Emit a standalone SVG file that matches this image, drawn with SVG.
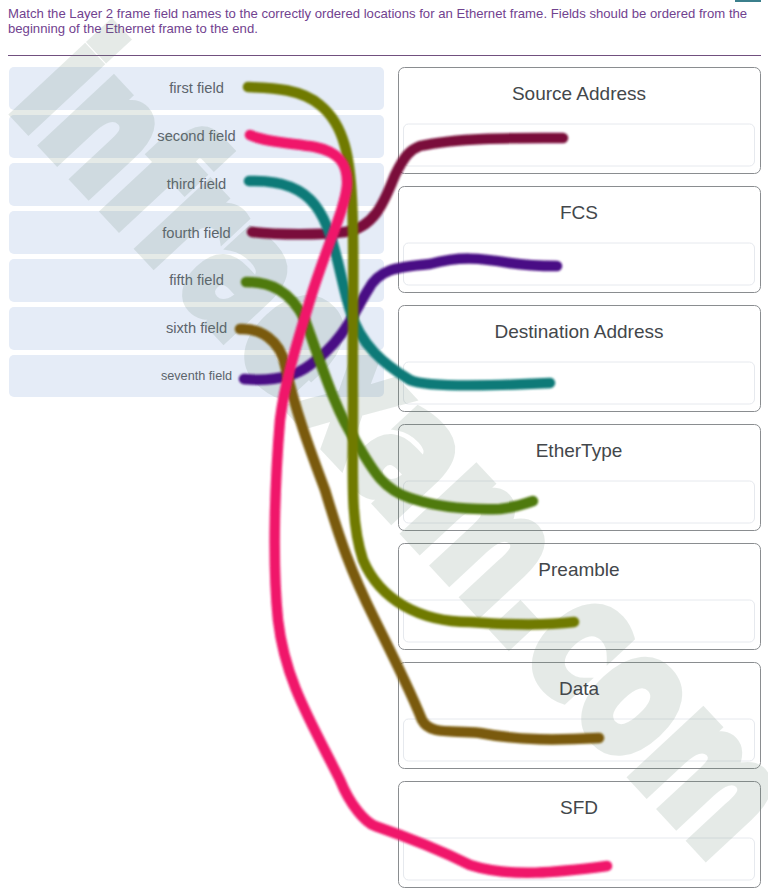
<svg xmlns="http://www.w3.org/2000/svg" width="768" height="894" viewBox="0 0 768 894">
<style>
text{font-family:"Liberation Sans",Arial,sans-serif}
.q{font-size:13.15px;fill:#71428f}
.cell{fill:#e5ecf7}
.lab{font-size:14.7px;fill:#5c646c;text-anchor:middle}
.box{fill:#fff;stroke:#8a8d90;stroke-width:1}
.inner{fill:none;stroke:#e6e9ee;stroke-width:1}
.title{font-size:19px;fill:#43474b;text-anchor:middle}
.wm{font-family:"DejaVu Sans",sans-serif;font-weight:700;font-size:172px;fill:#648270;stroke:#648270;stroke-width:11;stroke-linejoin:miter}
.c{fill:none;stroke-width:10.500;stroke-linecap:round;stroke-linejoin:round;filter:url(#soft)}
</style>
<defs><filter id="soft" x="-10%" y="-10%" width="120%" height="120%"><feGaussianBlur stdDeviation="1.1"/></filter></defs>
<rect width="768" height="894" fill="#fff"/>
<rect x="735" y="0" width="26" height="2" fill="#3b7f8c"/>
<text class="q" x="8" y="18">Match the Layer 2 frame field names to the correctly ordered locations for an Ethernet frame. Fields should be ordered from the</text>
<text class="q" x="8" y="33">beginning of the Ethernet frame to the end.</text>
<line x1="8" y1="55.500" x2="761" y2="55.500" stroke="#71507f"/>
<g id="field-1"><rect class="cell" x="9" y="67" width="375" height="43" rx="5"/><text class="lab" x="196.500" y="92.500">first field</text></g>
<g id="field-2"><rect class="cell" x="9" y="115" width="375" height="43" rx="5"/><text class="lab" x="196.500" y="141">second field</text></g>
<g id="field-3"><rect class="cell" x="9" y="163" width="375" height="43" rx="5"/><text class="lab" x="196.500" y="189">third field</text></g>
<g id="field-4"><rect class="cell" x="9" y="211" width="375" height="43" rx="5"/><text class="lab" x="196.500" y="237.500">fourth field</text></g>
<g id="field-5"><rect class="cell" x="9" y="259" width="375" height="43" rx="5"/><text class="lab" x="196.500" y="285">fifth field</text></g>
<g id="field-6"><rect class="cell" x="9" y="307" width="375" height="43" rx="5"/><text class="lab" x="196.500" y="333">sixth field</text></g>
<g id="field-7"><rect class="cell" x="9" y="355" width="375" height="42" rx="5"/><text class="lab" x="196.500" y="380" style="font-size:12.7px">seventh field</text></g>
<g id="slot-1"><rect class="box" x="398.500" y="67.500" width="362" height="106" rx="6"/><rect class="inner" x="403.500" y="124" width="351" height="42" rx="5"/></g>
<g id="slot-2"><rect class="box" x="398.500" y="186.500" width="362" height="106" rx="6"/><rect class="inner" x="403.500" y="243" width="351" height="42" rx="5"/></g>
<g id="slot-3"><rect class="box" x="398.500" y="305.500" width="362" height="106" rx="6"/><rect class="inner" x="403.500" y="362" width="351" height="42" rx="5"/></g>
<g id="slot-4"><rect class="box" x="398.500" y="424.500" width="362" height="106" rx="6"/><rect class="inner" x="403.500" y="481" width="351" height="42" rx="5"/></g>
<g id="slot-5"><rect class="box" x="398.500" y="543.500" width="362" height="106" rx="6"/><rect class="inner" x="403.500" y="600" width="351" height="42" rx="5"/></g>
<g id="slot-6"><rect class="box" x="398.500" y="662.500" width="362" height="106" rx="6"/><rect class="inner" x="403.500" y="719" width="351" height="42" rx="5"/></g>
<g id="slot-7"><rect class="box" x="398.500" y="781.500" width="362" height="106" rx="6"/><rect class="inner" x="403.500" y="838" width="351" height="42" rx="5"/></g>
<g opacity=".16"><text class="wm" transform="translate(8,106) rotate(47)" x="0" y="0" textLength="1035" lengthAdjust="spacingAndGlyphs">infraexam.com</text></g>
<g id="titles">
<text class="title" x="579" y="99.500">Source Address</text>
<text class="title" x="579" y="218.500">FCS</text>
<text class="title" x="579" y="337.500">Destination Address</text>
<text class="title" x="579" y="456.500">EtherType</text>
<text class="title" x="579" y="575.500">Preamble</text>
<text class="title" x="579" y="694.500">Data</text>
<text class="title" x="579" y="813.500">SFD</text>
</g>
<g id="connectors">
<path class="c" stroke="#4a0f85" d="M244 379C265 381 290 380 310 365C345 340 355 310 368 290C378 270 395 267 430 264C460 256 480 258 510 263C530 266 545 266 557 266"/>
<path class="c" stroke="#7a0f3a" d="M252 232C280 235 320 235 345 232C375 228 385 200 395 175C405 155 410 150 420 146C460 137 520 138 563 138"/>
<path class="c" stroke="#0f7a78" d="M249 181C275 180 300 185 315 205C335 230 340 280 350 310C360 345 385 365 410 380C425 387 490 386 550 383"/>
<path class="c" stroke="#7a5a08" d="M240 329C260 328 280 340 285 365C295 410 310 450 325 490C340 540 350 570 375 620C395 660 410 690 422 720C430 735 450 730 480 733C520 741 560 740 599 738"/>
<path class="c" stroke="#4f7a10" d="M246 282C270 282 290 290 305 320C320 360 335 410 355 440C375 475 385 490 410 498C440 508 470 510 500 509C515 507 525 504 533 501"/>
<path class="c" stroke="#6f7a05" d="M248 87C270 88 300 88 320 105C345 125 350 160 352 200C355 260 352 330 353 400C353 480 350 520 363 560C380 600 420 622 470 622C510 625 550 625 574 622"/>
<path class="c" stroke="#f0146a" d="M250 135C265 142 290 143 315 147C340 152 348 165 347 185C345 210 325 250 310 300C298 340 285 380 280 420C275 480 272 560 278 620C285 680 310 720 340 780C350 805 365 822 375 826C410 838 440 850 470 865C510 878 560 872 607 866"/>
</g>
</svg>
